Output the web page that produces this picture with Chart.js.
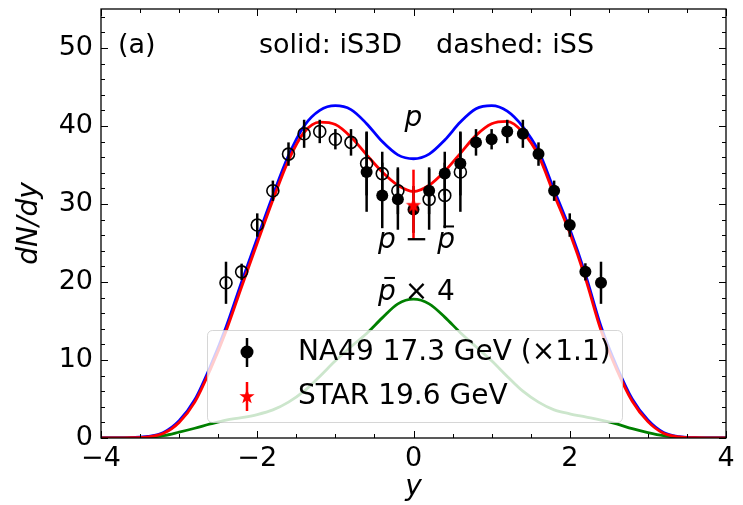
<!DOCTYPE html>
<html>
<head>
<meta charset="utf-8">
<script src="https://cdn.jsdelivr.net/npm/chart.js@4.4.1/dist/chart.umd.min.js"></script>
<style>
  html, body { margin: 0; padding: 0; background: #fff; }
  #wrap { width: 743px; height: 505px; }
</style>
</head>
<body>
<div id="wrap"><canvas id="c" width="743" height="505"></canvas></div>
<script>
// ─── Model curves (rapidity grid) ─────────────────────────────
const CURVE_Y = [-4.0,-3.8,-3.6,-3.4,-3.2,-3.0,-2.8,-2.6,-2.4,-2.2,-2.0,-1.8,-1.6,-1.4,-1.2,-1.0,-0.8,-0.6,-0.4,-0.2,
                 0.0,0.2,0.4,0.6,0.8,1.0,1.2,1.4,1.6,1.8,2.0,2.2,2.4,2.6,2.8,3.0,3.2,3.4,3.6,3.8,4.0];
// p  (blue)
const P_CURVE = [0,0.01,0.05,0.2,0.7,2.2,4.9,9.2,14.2,20.0,25.6,31.1,36.2,40.0,42.0,42.6,42.1,40.3,38.0,36.3,
                 35.8,36.4,38.2,40.5,42.2,42.6,41.9,39.9,36.8,31.8,26.8,21.0,14.3,9.2,5.0,2.3,0.7,0.17,0.04,0.01,0];
// p - pbar  (red)
const NETP_CURVE = [0,0.01,0.04,0.15,0.6,2.0,4.6,8.8,13.7,19.4,25.0,30.5,35.6,39.2,40.5,40.2,38.6,36.3,34.1,32.4,
                    31.6,32.4,34.2,36.5,38.8,40.3,40.6,39.2,36.2,31.2,26.3,20.5,13.8,8.8,4.7,2.1,0.6,0.14,0.03,0.01,0];
// pbar x 4  (green)
const PBAR4_CURVE = [0,0,0.02,0.08,0.3,0.75,1.25,1.8,2.3,2.6,3.0,3.6,4.6,6.0,7.9,9.9,11.7,13.4,15.4,17.2,
                     17.8,17.2,15.5,13.5,11.7,9.9,7.9,6.0,4.6,3.6,3.1,2.7,2.3,1.8,1.2,0.7,0.3,0.08,0.02,0,0];

// ─── Data points ──────────────────────────────────────────────
const NA49_Y    = [-0.6,-0.4,-0.2,0.0,0.2,0.4,0.6,0.8,1.0,1.2,1.4,1.6,1.8,2.0,2.2,2.4];
const NA49_DNDY = [34.1,31.1,30.6,29.3,31.7,33.9,35.2,37.9,38.3,39.3,39.0,36.4,31.7,27.3,21.3,19.9];
const NA49_ERR  = [5.1,4.2,3.9,3.0,3.0,2.8,4.1,1.7,1.3,1.5,1.8,1.5,1.3,1.5,1.1,2.7];
// reflected points (open circles)
const NA49R_Y    = [-2.4,-2.2,-2.0,-1.8,-1.6,-1.4,-1.2,-1.0,-0.8,-0.6,-0.4,-0.2,0.2,0.4,0.6];
const NA49R_DNDY = [19.9,21.3,27.3,31.7,36.4,39.0,39.3,38.3,37.9,35.2,33.9,31.7,30.6,31.1,34.1];
const NA49R_ERR  = [2.7,1.05,1.5,1.3,1.5,1.8,1.5,1.3,1.7,4.1,2.8,3.0,3.9,4.2,5.1];

const STAR_Y    = [0.0];
const STAR_DNDY = [29.9];
const STAR_ERR  = [4.5];

const X_TICKS = [-4, -2, 0, 2, 4];
const Y_TICKS = [0, 10, 20, 30, 40, 50];

const FONT = "'DejaVu Sans', 'Noto Sans', sans-serif";
const pts = (xs, ys) => xs.map((x, i) => ({ x, y: ys[i] }));

function starPath(ctx, cx, cy, r) {
  ctx.beginPath();
  for (let k = 0; k < 10; k++) {
    const rr = k % 2 ? r * 0.4 : r;
    const a = -Math.PI / 2 + k * Math.PI / 5;
    ctx.lineTo(cx + rr * Math.cos(a), cy + rr * Math.sin(a));
  }
  ctx.closePath();
}

function starImage(r, color) {
  const c = document.createElement('canvas');
  const s = Math.ceil(r * 2 + 2);
  c.width = s; c.height = s;
  const g = c.getContext('2d');
  g.fillStyle = color;
  starPath(g, s / 2, s / 2 + 0.8, r);
  g.fill();
  return c;
}

const STAR_R = 8;
const starImg = starImage(STAR_R, '#ff0000');

function curve(data, color, order) {
  return {
    data: pts(CURVE_Y, data), showLine: true, borderColor: color, borderWidth: 2.8,
    pointRadius: 0, cubicInterpolationMode: 'monotone', order,
  };
}

// ─── Overlay: error bars, frame, ticks, texts, legend ─────────
const overlay = {
  id: 'overlay',
  beforeDatasetDraw(chart, args) {
    const ds = chart.data.datasets[args.index];
    if (!ds.errors) return;
    const { ctx, scales: { x, y } } = chart;
    ctx.save();
    ctx.strokeStyle = ds.errColor;
    ctx.lineWidth = 2.5;
    ds.data.forEach((p, i) => {
      const px = x.getPixelForValue(p.x);
      ctx.beginPath();
      ctx.moveTo(px, y.getPixelForValue(p.y - ds.errors[i]));
      ctx.lineTo(px, y.getPixelForValue(p.y + ds.errors[i]));
      ctx.stroke();
    });
    ctx.restore();
  },
  afterDraw(chart) {
    const { ctx, chartArea: { left, right, top, bottom }, scales: { x, y } } = chart;
    ctx.save();

    // frame + inward ticks on all four sides
    ctx.strokeStyle = '#000';
    ctx.lineWidth = 1.3;
    ctx.strokeRect(left, top, right - left, bottom - top);
    ctx.lineWidth = 1;
    for (let i = 0; i <= 16; i++) {
      const v = -4 + i * 0.5;
      const len = X_TICKS.includes(v) ? 7 : 4;
      const px = Math.round(x.getPixelForValue(v)) + 0.5;
      ctx.beginPath();
      ctx.moveTo(px, bottom); ctx.lineTo(px, bottom - len);
      ctx.moveTo(px, top); ctx.lineTo(px, top + len);
      ctx.stroke();
    }
    for (let v = 0; v <= 54; v += 2) {
      const len = Y_TICKS.includes(v) ? 7 : 4;
      const py = Math.round(y.getPixelForValue(v)) + 0.5;
      ctx.beginPath();
      ctx.moveTo(left, py); ctx.lineTo(left + len, py);
      ctx.moveTo(right, py); ctx.lineTo(right - len, py);
      ctx.stroke();
    }

    // panel tag + title
    ctx.fillStyle = '#000';
    ctx.textBaseline = 'alphabetic';
    ctx.textAlign = 'left';
    ctx.font = `27px ${FONT}`;
    ctx.fillText('(a)', 118, 53);
    ctx.fillText('solid: iS3D', 259, 53);
    ctx.fillText('dashed: iSS', 436, 53);

    // curve labels
    const cx = x.getPixelForValue(0);
    const it = `italic 28px ${FONT}`, up = `28px ${FONT}`;
    ctx.font = it;
    ctx.textAlign = 'center';
    ctx.fillText('p', cx, y.getPixelForValue(40.0));

    const drawParts = (parts, baseY) => {
      let w = 0;
      parts.forEach(p => { ctx.font = p.f; w += ctx.measureText(p.t).width; });
      let px = cx + 3 - w / 2;
      ctx.textAlign = 'left';
      parts.forEach(p => {
        ctx.font = p.f;
        const tw = ctx.measureText(p.t).width;
        ctx.fillText(p.t, px, baseY);
        if (p.bar) {
          ctx.fillRect(px + tw * 0.35, baseY - 23, tw * 0.6, 2);
        }
        px += tw;
      });
    };
    drawParts([{ t: 'p', f: it }, { t: ' \u2212 ', f: up }, { t: 'p', f: it, bar: true }], y.getPixelForValue(24.3));
    drawParts([{ t: 'p', f: it, bar: true }, { t: ' \u00d7 4', f: up }], y.getPixelForValue(17.7));

    // legend
    const lx = 207.5, ly = 330.5, lw = 415, lh = 92;
    ctx.beginPath();
    ctx.roundRect(lx, ly, lw, lh, 5);
    ctx.fillStyle = 'rgba(255,255,255,0.8)';
    ctx.fill();
    ctx.strokeStyle = 'rgba(204,204,204,0.8)';
    ctx.lineWidth = 1;
    ctx.stroke();

    const mx = 247, r1 = 352, r2 = 396;
    ctx.lineWidth = 2.5;
    ctx.strokeStyle = '#000';
    ctx.beginPath(); ctx.moveTo(mx, r1 - 14); ctx.lineTo(mx, r1 + 15); ctx.stroke();
    ctx.fillStyle = '#000';
    ctx.beginPath(); ctx.arc(mx, r1, 6.5, 0, Math.PI * 2); ctx.fill();
    ctx.strokeStyle = '#ff0000';
    ctx.beginPath(); ctx.moveTo(mx, r2 - 14); ctx.lineTo(mx, r2 + 15); ctx.stroke();
    ctx.fillStyle = '#ff0000';
    starPath(ctx, mx, r2 + 0.8, STAR_R); ctx.fill();

    ctx.fillStyle = '#000';
    ctx.font = `28px ${FONT}`;
    ctx.textAlign = 'left';
    ctx.textBaseline = 'middle';
    ctx.fillText('NA49 17.3 GeV (\u00d71.1)', 298, r1 + 1);
    ctx.fillText('STAR 19.6 GeV', 298, r2 + 1);
    ctx.restore();
  }
};

new Chart(document.getElementById('c'), {
  type: 'scatter',
  data: {
    datasets: [
      { data: pts(STAR_Y, STAR_DNDY), errors: STAR_ERR, errColor: '#ff0000',
        pointStyle: starImg, pointRadius: STAR_R, order: 0 },
      { data: pts(NA49_Y, NA49_DNDY), errors: NA49_ERR, errColor: '#000',
        pointRadius: 6, pointBackgroundColor: '#000', pointBorderColor: '#000', pointBorderWidth: 0, order: 1 },
      { data: pts(NA49R_Y, NA49R_DNDY), errors: NA49R_ERR, errColor: '#000',
        pointRadius: 6, pointBackgroundColor: 'rgba(0,0,0,0)', pointBorderColor: '#000', pointBorderWidth: 1.6, order: 2 },
      curve(NETP_CURVE, '#ff0000', 3),
      curve(P_CURVE, '#0000ff', 4),
      curve(PBAR4_CURVE, '#008000', 5),
    ]
  },
  options: {
    responsive: false,
    animation: false,
    events: [],
    layout: { padding: { left: 0, top: 6, right: 17, bottom: 0 } },
    plugins: { legend: { display: false }, tooltip: { enabled: false } },
    scales: {
      x: {
        type: 'linear', min: -4, max: 4,
        afterFit: s => { s.height = 67; s.paddingLeft = 0; s.paddingRight = 0; },
        afterBuildTicks: s => { s.ticks = X_TICKS.map(value => ({ value })); },
        grid: { display: false, drawTicks: false },
        border: { display: false },
        ticks: {
          color: '#000', padding: 5, maxRotation: 0,
          font: { family: FONT, size: 27 },
          callback: v => (v < 0 ? '\u2212' + Math.abs(v) : String(v)),
        },
        title: {
          display: true, text: 'y', color: '#000',
          font: { family: FONT, size: 28, style: 'italic', lineHeight: 1.2 },
          padding: { top: 0, bottom: 0 },
        },
      },
      y: {
        type: 'linear', min: 0, max: 55,
        afterFit: s => { s.width = 101; s.paddingTop = 0; s.paddingBottom = 0; },
        afterBuildTicks: s => { s.ticks = Y_TICKS.map(value => ({ value })); },
        grid: { display: false, drawTicks: false },
        border: { display: false },
        ticks: {
          color: '#000', padding: 8,
          font: { family: FONT, size: 27 },
        },
        title: {
          display: true, text: 'dN/dy', color: '#000',
          font: { family: FONT, size: 28, style: 'italic', lineHeight: 1.2 },
          padding: { top: 13, bottom: 0 },
        },
      },
    },
  },
  plugins: [overlay],
});
</script>
</body>
</html>
